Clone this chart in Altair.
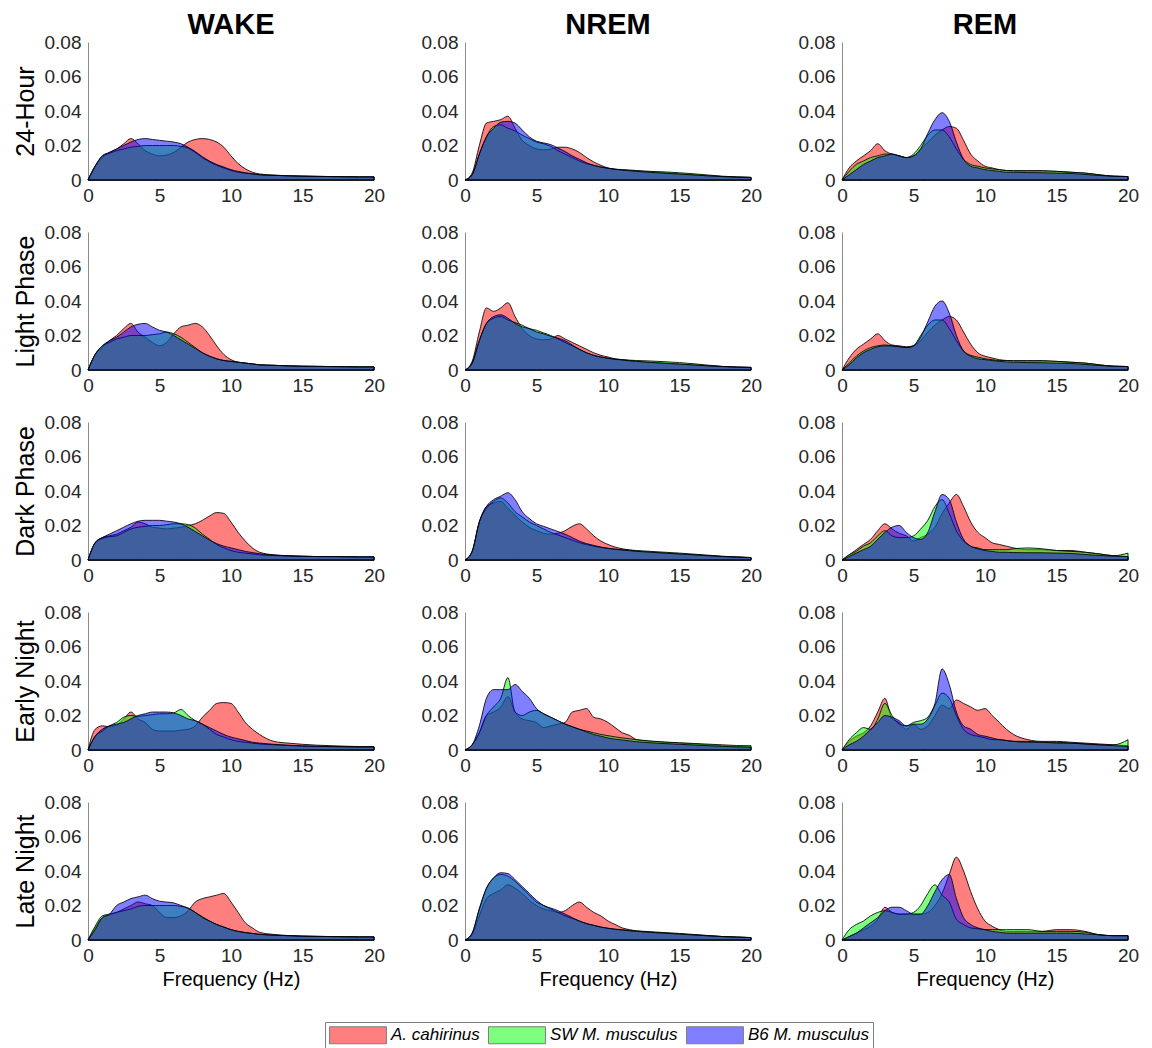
import altair as alt
import pandas as pd

# ---------------- data (power values in units of 1e-3) ----------------
FREQ = [0, 0.5, 1, 1.5, 2, 2.5, 3, 3.5, 4, 4.5, 5, 5.5, 6, 6.5, 7, 7.5, 8, 8.5, 9, 9.5,
        10, 10.5, 11, 11.5, 12, 13, 14, 15, 16, 17, 18, 19, 20]

SERIES = ["A. cahirinus", "SW M. musculus", "B6 M. musculus"]
COLORS = ["#ff0000", "#00ff00", "#0000ff"]
STATES = ["WAKE", "NREM", "REM"]
PERIODS = ["24-Hour", "Light Phase", "Dark Phase", "Early Night", "Late Night"]
X_TICKS = [0, 5, 10, 15, 20]
Y_TICKS = [0, 0.02, 0.04, 0.06, 0.08]

# 24-Hour
W24_A = [0, 8, 13, 16, 18, 21, 24, 21, 17, 15, 14, 14.5, 16, 19, 22, 23.5, 24, 23.5, 22, 19, 14, 9.5, 6.5, 4.5, 3.5, 2.8, 2.5, 2.3, 2.1, 2, 1.9, 1.8, 1.8]
W24_SW = [0, 8, 14, 15.5, 17, 18, 19, 19.5, 20, 20, 20, 20, 20, 19.5, 18.5, 16, 13, 10.5, 8.5, 7, 5.5, 4.5, 4, 3.5, 3, 2.7, 2.4, 2.2, 2.1, 2, 1.9, 1.8, 1.8]
W24_B6 = [0, 8, 14, 16, 18, 20, 22, 23.5, 24, 23.5, 23, 22.5, 22, 21, 19, 16.5, 13.5, 11, 9, 7.5, 6, 5, 4.2, 3.6, 3.1, 2.7, 2.4, 2.2, 2.1, 2, 1.9, 1.8, 1.8]
N24_A = [0, 4, 20, 33, 34, 35, 37, 30, 23, 20, 18, 17.5, 18, 19, 19, 18, 16, 13, 10.5, 8.5, 7, 6.2, 5.8, 5.5, 5.2, 4.7, 4.2, 3.6, 3, 2.5, 2, 1.7, 1.5]
N24_SW = [0, 3, 15, 25, 31, 32, 30, 28.5, 26, 24, 22, 21, 19.5, 17, 15, 13, 11, 9.5, 8.5, 7.5, 6.8, 6.3, 6, 5.8, 5.5, 5, 4.7, 4.2, 3.6, 2.9, 2.2, 1.8, 1.5]
N24_B6 = [0, 3, 15, 25, 30, 33.5, 34, 33, 29, 25, 22.5, 21.5, 20.5, 18.5, 16.5, 14, 12, 10, 8.5, 7.5, 6.8, 6.2, 5.8, 5.4, 5, 4.4, 3.9, 3.4, 2.9, 2.4, 2, 1.7, 1.5]
R24_A = [0, 7, 11, 14, 17, 21, 17, 15, 14, 13, 14, 18, 22, 26, 29, 31, 30, 23, 15, 11, 8, 7, 6, 5.5, 5, 5, 5, 5, 4.5, 4, 3, 2.2, 2]
R24_SW = [0, 5, 9, 11, 13, 14, 15, 15, 14, 13, 15, 20, 26, 29, 29, 25, 18, 12, 9, 8, 7, 6.5, 6, 5.5, 5.5, 5.5, 5.5, 5, 4.5, 4, 3, 2.2, 2]
R24_B6 = [0, 3, 6, 9, 11, 13, 14, 15, 14, 13, 14, 18, 27, 35, 39, 34, 22, 12, 8, 7, 6, 5.5, 5, 4.5, 4.5, 4.3, 4.2, 4, 3.8, 3.2, 2.6, 2.2, 2]

# Light Phase
WL_A = [0, 9, 13, 17, 20, 24, 27, 22, 19, 16, 14, 16, 21, 25, 26, 27, 25, 20, 14, 9, 6, 4.5, 4, 3.5, 3, 2.7, 2.4, 2.2, 2.1, 2, 1.9, 1.8, 1.8]
WL_SW = [0, 9, 14, 16, 18, 19, 20, 20, 20, 20.5, 21, 22, 21, 19, 16, 13, 10, 8, 6.5, 5.5, 5, 4.5, 4, 3.5, 3, 2.7, 2.4, 2.2, 2.1, 2, 1.9, 1.8, 1.8]
WL_B6 = [0, 9, 14, 17, 19, 22, 25, 26.5, 27, 25, 23, 22, 20, 17.5, 15, 12.5, 10, 8, 6.5, 5.5, 5, 4.5, 4, 3.5, 3, 2.7, 2.4, 2.2, 2.1, 2, 1.9, 1.8, 1.8]
NL_A = [0, 5, 22, 36, 34, 36, 39, 31, 24, 20, 18, 17.5, 18, 20, 18, 16, 14, 12, 10, 8.5, 7.5, 6.5, 6, 5.5, 5, 4.5, 4, 3.5, 3, 2.5, 2, 1.7, 1.5]
NL_SW = [0, 4, 17, 27, 30, 31, 29, 27.5, 26, 24, 23, 21.5, 20, 18, 16, 14, 12, 10, 8.5, 7.5, 6.8, 6.3, 6, 5.7, 5.5, 5.2, 4.8, 4.3, 3.6, 2.8, 2.1, 1.7, 1.5]
NL_B6 = [0, 4, 17, 27, 31, 32, 30, 27, 25, 24, 22, 21, 19.5, 18.5, 17, 14.5, 12, 10, 8.5, 7.5, 6.8, 6.2, 5.8, 5.3, 5, 4.4, 3.9, 3.4, 2.9, 2.4, 2, 1.7, 1.5]
RL_A = [0, 7, 12, 15, 18, 21, 17, 14.5, 14, 13.5, 14, 17, 22, 26, 29, 31, 29, 22, 15, 10, 8, 7, 6, 5.5, 5, 5, 5, 5, 4.5, 4, 3, 2.2, 2]
RL_SW = [0, 4, 8, 11, 13, 14, 14.5, 14, 13.5, 13, 14, 20, 26, 29, 29, 24, 17, 11, 8.5, 7.5, 6.5, 6, 5.5, 5.5, 5.5, 5.5, 5.5, 5, 4.5, 4, 3, 2.2, 2]
RL_B6 = [0, 3, 7, 10, 12, 13.5, 14, 14, 13.5, 13, 14, 19, 28, 37, 40, 33, 20, 11, 8, 6.5, 6, 5.5, 5, 4.7, 4.5, 4.3, 4.2, 4, 3.8, 3.2, 2.6, 2.2, 2]

# Dark Phase
WD_A = [0, 10, 13, 14, 15, 17, 19, 22, 21, 19, 18.5, 18, 18.5, 19, 20, 21, 23, 25.5, 27.5, 27, 22, 16, 11, 7, 4.5, 3, 2.5, 2.2, 2, 2, 1.9, 1.8, 1.8]
WD_SW = [0, 10, 12.5, 13.5, 14, 16, 18, 19, 19.5, 20, 20, 20.5, 21, 21, 20.5, 18.5, 15, 12, 9, 7, 5.5, 4.5, 4, 3.5, 3, 2.6, 2.3, 2.1, 2, 2, 1.9, 1.8, 1.8]
WD_B6 = [0, 10, 13, 15, 17, 19, 21, 22.5, 23, 23, 23, 22.5, 22, 21, 19, 16.5, 14, 11.5, 9.5, 8, 7, 6, 5, 4.3, 3.6, 2.8, 2.4, 2.2, 2, 2, 1.9, 1.8, 1.8]
ND_A = [0, 5, 22, 31, 33, 34, 30, 26, 22, 19, 17, 15.5, 15, 15.5, 17, 19.5, 21, 18, 14, 11, 9, 7.5, 6.5, 5.8, 5.2, 4.6, 4, 3.5, 3, 2.5, 2, 1.7, 1.4]
ND_SW = [0, 5, 22, 30, 34, 36, 33, 28, 25, 22, 20, 18, 16, 14.5, 13, 11.5, 10, 9, 8, 7.3, 6.7, 6.3, 6, 5.8, 5.5, 5, 4.5, 4, 3.4, 2.8, 2.2, 1.8, 1.4]
ND_B6 = [0, 5, 22, 31, 35, 37, 39, 35, 28, 24, 21, 19.5, 18, 16.5, 15, 13, 11, 9.5, 8.5, 7.5, 6.8, 6.2, 5.8, 5.4, 5, 4.5, 4, 3.5, 3, 2.5, 2, 1.7, 1.4]
RD_A = [0, 3, 6, 9, 12, 17, 21, 18, 15.5, 14, 11, 13, 15, 19, 27, 33, 38, 31, 22, 16, 13, 10, 9, 8, 7, 6, 6, 5.5, 5.5, 4.5, 3.5, 2.5, 2]
RD_SW = [0, 3, 5, 8, 10, 14, 17, 14, 13, 13, 14, 18, 23, 31, 35, 27, 17, 11, 8, 7, 6, 6, 6, 6, 6.5, 7, 6.5, 5.5, 5, 4.5, 3.5, 2.5, 4]
RD_B6 = [0, 2, 4, 6, 8, 12, 16, 19, 20, 16, 13, 12, 16, 28, 38, 35, 22, 12, 8, 6.5, 5.5, 5, 4.5, 4.5, 4.3, 4.2, 4.2, 4, 3.8, 3.2, 2.6, 2.2, 2]

# Early Night
WE_A = [0, 12, 14, 13.5, 14.5, 18, 22, 18, 16, 12, 11, 11, 11, 11.5, 12, 14, 19, 23, 27, 27.5, 27, 22, 16, 12, 9, 5, 4, 3.3, 2.8, 2.5, 2.2, 2, 2]
WE_SW = [0, 8, 11, 14, 16, 19, 20, 19.5, 20, 20.5, 21, 21, 21.5, 23.5, 20, 17, 15, 12, 9, 7.5, 6, 5, 4.5, 4, 3.5, 3, 2.6, 2.3, 2.1, 2, 1.9, 1.8, 1.8]
WE_B6 = [0, 8, 12, 14, 15, 16, 18, 20, 21, 22, 22, 22, 21.5, 20, 18, 17, 15, 13, 11, 9, 7.5, 6.5, 5.5, 4.5, 4, 3.3, 2.8, 2.4, 2.2, 2, 1.9, 1.8, 1.8]
NE_A = [0, 3, 10, 20, 22, 25, 31, 22, 18, 17, 16, 13, 14, 15, 16, 22, 23, 24, 19, 18, 16, 13, 10, 8.5, 6, 5, 4.5, 4, 3.5, 3, 2.5, 2, 1.8]
NE_SW = [0, 3, 10, 20, 25, 30, 42, 22, 20, 22, 23, 21, 19, 17, 15, 13.5, 12, 11, 10, 9, 8.3, 7.6, 7, 6.5, 6, 5.2, 4.6, 4.2, 3.8, 3.4, 3, 2.6, 2.5]
NE_B6 = [0, 3, 14, 30, 35, 35, 35, 38, 34, 30, 24, 21, 19, 17, 15, 13.5, 12, 10.5, 9, 8, 7, 6.3, 5.8, 5.3, 4.8, 4.2, 3.7, 3.3, 2.9, 2.5, 2.1, 1.8, 1.6]
RE_A = [0, 5, 8, 10, 14, 22, 30, 18, 16, 12, 15, 12, 14, 20, 26, 24, 29, 27, 25, 23, 24, 20, 16, 12, 9, 6, 5, 5, 4.5, 4, 3.5, 3, 2.5]
RE_SW = [0, 6, 10, 13, 12, 18, 27, 20, 15, 14, 16, 17, 19, 26, 33, 30, 20, 12, 9, 8, 7, 6, 6, 5.5, 5, 5, 4.5, 4.5, 4, 3.5, 3, 3, 6]
RE_B6 = [0, 3, 5, 8, 12, 16, 20, 19, 17, 14, 15, 15, 18, 27, 47, 38, 22, 14, 12, 9, 8, 7, 6, 5.5, 5, 4.5, 4.5, 4, 4, 3.5, 3, 2.5, 2]

# Late Night
WN_A = [0, 7, 13, 14.5, 16, 18, 20, 22, 21, 20, 16, 13, 13, 14, 17, 22, 24, 25, 26, 27, 22, 16, 10, 7, 4.5, 3.2, 2.6, 2.3, 2.1, 2, 1.9, 1.8, 1.8]
WN_SW = [0, 8, 14, 15, 16, 17, 18, 19.5, 20, 20, 20, 20, 20, 19.5, 18.5, 16, 13.5, 11, 9, 7.5, 6, 5, 4.3, 3.8, 3.3, 2.8, 2.5, 2.2, 2.1, 2, 1.9, 1.8, 1.8]
WN_B6 = [0, 6, 13, 15, 20, 22, 24, 25, 26, 24, 22.5, 22, 21.5, 20, 18.5, 16, 13, 11, 9, 7.5, 6, 5, 4.3, 3.8, 3.3, 2.8, 2.5, 2.2, 2.1, 2, 1.9, 1.8, 1.8]
NN_A = [0, 3, 14, 24, 27, 29, 32, 30, 27, 23, 20, 18, 17, 16, 17, 20, 22, 19, 16, 14, 11, 9, 7, 6, 5.2, 4.5, 4, 3.5, 3, 2.5, 2, 1.7, 1.4]
NN_SW = [0, 4, 18, 30, 36, 38, 37, 34, 30, 26, 22, 20, 18, 16, 14, 12.5, 11, 9.5, 8.5, 7.5, 6.8, 6.3, 6, 5.6, 5.3, 4.8, 4.3, 3.8, 3.2, 2.6, 2, 1.7, 1.4]
NN_B6 = [0, 4, 18, 30, 36, 39, 38.5, 35, 31, 27, 23, 20, 18.5, 17, 15, 13, 11, 9.5, 8.5, 7.5, 6.8, 6.2, 5.7, 5.3, 5, 4.4, 3.9, 3.4, 2.9, 2.4, 2, 1.7, 1.4]
RN_A = [0, 2, 4, 6, 8, 12, 19, 16, 15, 15, 15, 15, 16, 20, 27, 38, 48, 40, 28, 18, 11, 8, 6, 5, 5, 5, 5, 6, 6, 5, 3, 2.5, 2.5]
RN_SW = [0, 6, 9, 11, 14, 16, 17, 16, 15, 15, 16, 20, 27, 32, 26, 22, 12, 9, 7, 6.5, 6, 6, 6, 6, 6, 6, 5, 5, 5, 4.5, 3, 2.5, 2.5]
RN_B6 = [0, 2, 4, 7, 10, 13, 17, 19, 19, 17, 15, 15, 20, 28, 35, 38, 24, 13, 9, 7, 6, 5, 4.5, 4, 4, 4, 4, 4, 4, 3.5, 3, 2.5, 2.5]

PANELS = {
    ("24-Hour", "WAKE"): (W24_A, W24_SW, W24_B6),
    ("24-Hour", "NREM"): (N24_A, N24_SW, N24_B6),
    ("24-Hour", "REM"): (R24_A, R24_SW, R24_B6),
    ("Light Phase", "WAKE"): (WL_A, WL_SW, WL_B6),
    ("Light Phase", "NREM"): (NL_A, NL_SW, NL_B6),
    ("Light Phase", "REM"): (RL_A, RL_SW, RL_B6),
    ("Dark Phase", "WAKE"): (WD_A, WD_SW, WD_B6),
    ("Dark Phase", "NREM"): (ND_A, ND_SW, ND_B6),
    ("Dark Phase", "REM"): (RD_A, RD_SW, RD_B6),
    ("Early Night", "WAKE"): (WE_A, WE_SW, WE_B6),
    ("Early Night", "NREM"): (NE_A, NE_SW, NE_B6),
    ("Early Night", "REM"): (RE_A, RE_SW, RE_B6),
    ("Late Night", "WAKE"): (WN_A, WN_SW, WN_B6),
    ("Late Night", "NREM"): (NN_A, NN_SW, NN_B6),
    ("Late Night", "REM"): (RN_A, RN_SW, RN_B6),
}

FONT = "Liberation Sans"

color_scale = alt.Scale(domain=SERIES, range=COLORS)
legend = alt.Legend(
    title=None, orient="none", direction="horizontal",
    legendX=237, legendY=980,
    symbolType="M-1,-1H5.7V1H-1Z", symbolSize=289,
    symbolOpacity=0.5, symbolStrokeColor="black", symbolStrokeWidth=1,
    labelFont=FONT, labelFontSize=17, labelFontStyle="italic", labelColor="black",
    labelOffset=44, columnPadding=6, padding=4,
    strokeColor="#808080", fillColor="white",
)


def panel(r, c):
    period, state = PERIODS[r], STATES[c]
    arrays = PANELS[(period, state)]
    layers = []
    for s, vals in zip(SERIES, arrays):
        df = pd.DataFrame({"freq": FREQ, "value": [v / 1000 for v in vals], "series": s})
        x_kwargs = dict(values=X_TICKS, labelFlush=False, labelPadding=6,
                        titleFontSize=20, titlePadding=4, titleFontWeight="normal")
        y_kwargs = dict(values=Y_TICKS, labelFlush=False, labelPadding=7,
                        labelExpr="datum.value == 0 ? '0' : format(datum.value, '.2f')",
                        titleFontSize=25, titlePadding=6, titleFontWeight="normal")
        xt = "Frequency (Hz)" if r == len(PERIODS) - 1 else None
        yt = period if c == 0 else None
        layers.append(
            alt.Chart(df).mark_area(
                fillOpacity=0.5, stroke="black", strokeWidth=1, strokeOpacity=0.85,
                interpolate="monotone",
            ).encode(
                x=alt.X("freq:Q", scale=alt.Scale(domain=[0, 20], nice=False),
                        axis=alt.Axis(**x_kwargs), title=xt),
                y=alt.Y("value:Q", scale=alt.Scale(domain=[0, 0.08], nice=False),
                        axis=alt.Axis(**y_kwargs), title=yt, stack=None),
                color=alt.Color("series:N", scale=color_scale, legend=legend),
            )
        )
    ch = alt.layer(*layers).properties(width=286, height=138)
    if r == 0:
        ch = ch.properties(title=alt.TitleParams(
            text=state, fontSize=29, fontWeight="bold", font=FONT,
            color="black", anchor="middle", offset=-7))
    return ch


charts = [panel(r, c) for r in range(len(PERIODS)) for c in range(len(STATES))]

chart = alt.concat(*charts, columns=3, spacing={"row": 52, "column": 91}, bounds="flush").properties(
    padding={"left": 5, "top": 3, "right": 5, "bottom": 5}
).configure_view(stroke=None).configure_axis(
    labelFont=FONT, labelFontSize=19, labelColor="#262626",
    titleFont=FONT, titleColor="black",
    domainColor="#8c8c8c", domainWidth=1, ticks=False, grid=False,
)

chart.save("out.html", embed_options={"renderer": "svg", "actions": False})
